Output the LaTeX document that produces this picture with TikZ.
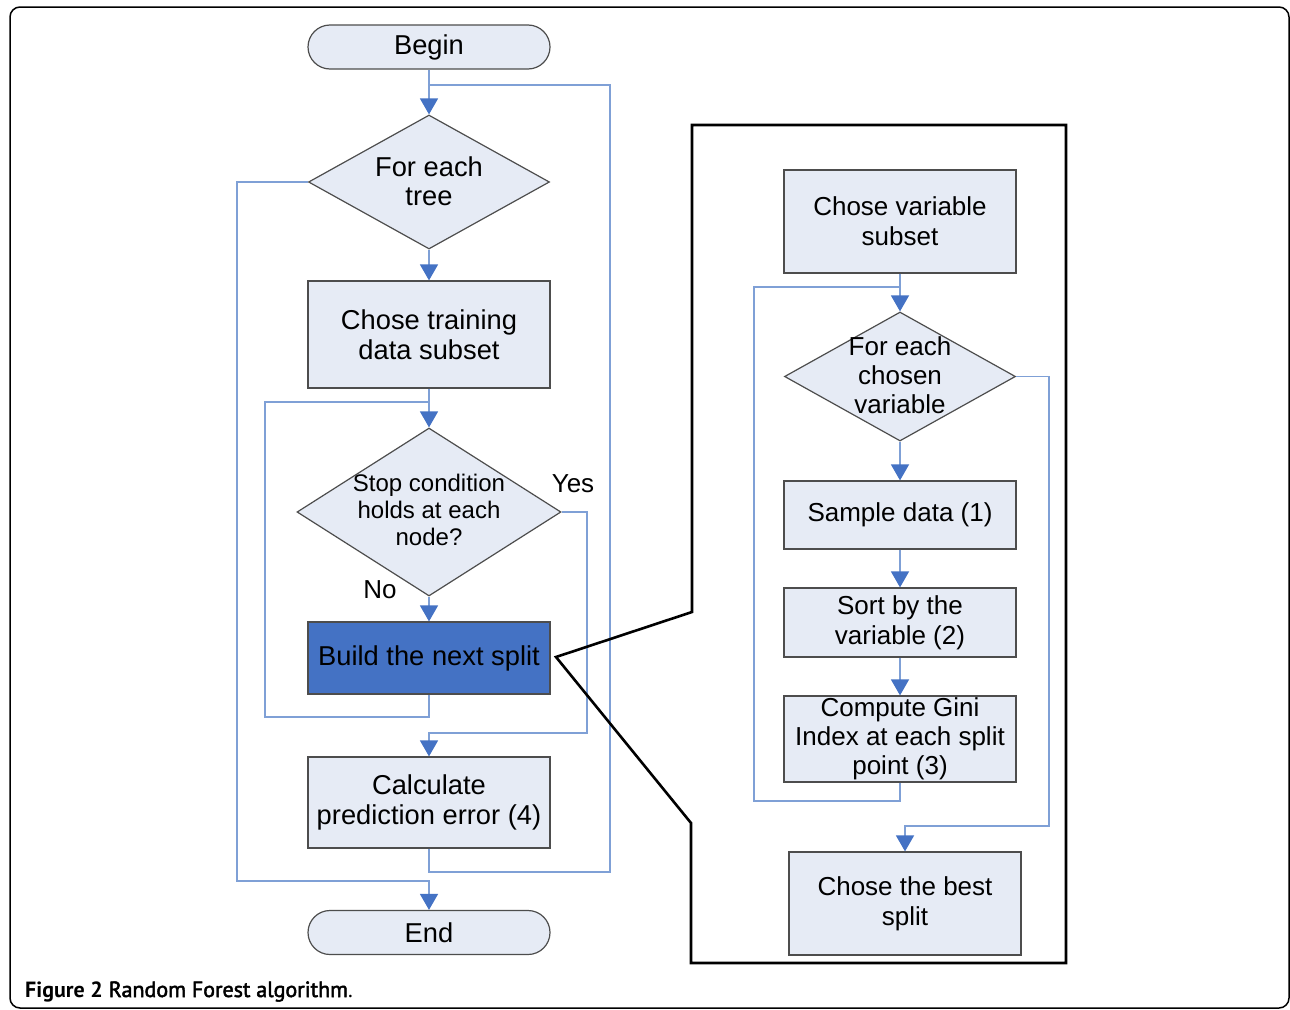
\documentclass[tikz,border=0pt]{standalone}
\usepackage{fontspec}
\setmainfont{Liberation Sans}
\newfontfamily\capfont{PT Sans}
\newfontfamily\capsemi[FakeBold=2.2]{PT Sans}
\usetikzlibrary{arrows.meta,shapes.geometric}
\definecolor{boxfill}{HTML}{E6EBF5}
\definecolor{boxdraw}{HTML}{4D4D4D}
\definecolor{linkblue}{HTML}{7FA0D6}
\definecolor{tipblue}{HTML}{4472C4}
\definecolor{splitblue}{HTML}{4472C4}
\begin{document}
\begin{tikzpicture}[x=1pt,y=-1pt,
  box/.style={draw=boxdraw,fill=boxfill,line width=1.2pt,minimum width=242pt,inner sep=0pt,align=center,font=\fontsize{27.3}{30.5}\selectfont},
  rbox/.style={box,minimum width=232pt,font=\fontsize{26}{30}\selectfont},
  term/.style={box,rounded corners=22pt,minimum height=44pt},
  dia/.style={diamond,draw=boxdraw,fill=boxfill,line width=1.2pt,inner sep=0pt},
  dtext/.style={align=center,inner sep=0pt,font=\fontsize{26}{29}\selectfont},
  lbl/.style={inner sep=0pt,font=\fontsize{26}{30}\selectfont},
  link/.style={draw=linkblue,line width=1.5pt},
  arr/.style={link,-{Triangle[width=18pt,length=16pt,color=tipblue]}},
  panel/.style={draw=black,line width=2.6pt,line join=miter}
]
\useasboundingbox (0,0) rectangle (1290,1009);
\fill[white] (0,0) rectangle (1290,1009);
\draw[line width=1.5pt,rounded corners=10pt] (10,7) rectangle (1289,1008);

% ---- left flow ----
\node[term] (begin) at (429,47) {Begin};
\node[dia,minimum width=241pt,minimum height=134pt] (tree) at (429,182) {};
\node[dtext,font=\fontsize{27.3}{29}\selectfont] (treetext) at (429,181) {For each\\tree};
\node[box,minimum height=107pt] (train) at (429,334.5) {Chose training\\data subset};
\node[dia,minimum width=264pt,minimum height=168pt] (stop) at (429,512) {};
\node[dtext,font=\fontsize{24}{27}\selectfont] (stoptext) at (429,510) {Stop condition\\holds at each\\node?};
\node[box,fill=splitblue,minimum height=72pt] (build) at (429,658) {Build the next split};
\node[box,minimum height=91pt] (calc) at (429,802.5) {Calculate\\prediction error (4)};
\node[term] (end) at (429,932.5) {End};
\node[lbl] (yes) at (573,484) {Yes};
\node[lbl] (no) at (380,590) {No};

\coordinate (m1) at (429,85);
\coordinate (r1) at (610,872);
\coordinate (r2) at (610,85);
\coordinate (l1) at (237,881);
\coordinate (l3a) at (265,717);
\coordinate (l3b) at (265,402);
\coordinate (m3) at (429,402);
\coordinate (y1) at (587,733);

\draw[link] (calc.south) |- (r1) -- (r2) -- (m1);
\draw[link] (build.south) |- (l3a) -- (l3b) -- (m3);
\draw[arr] (begin.south) -- (tree.north);
\draw[arr] (tree.south) -- (train.north);
\draw[arr] (train.south) -- (stop.north);
\draw[arr] (stop.south) -- (build.north);
\draw[arr] (stop.east) -| (y1) -| (calc.north);
\draw[arr] (tree.west) -| (l1) -| (end.north);

% ---- zoom panel ----
\coordinate (tip) at (556,657);
\draw[panel] (tip) -- (692,612) -- (692,125) -- (1066,125) -- (1066,963) -- (691,963) -- (691,823) -- cycle;

\node[rbox,minimum height=103pt] (vsub) at (900,221.5) {Chose variable\\subset};
\node[dia,minimum width=231pt,minimum height=129pt] (vdia) at (900,376.5) {};
\node[dtext] (vdiatext) at (900,375) {For each\\chosen\\variable};
\node[rbox,minimum height=68pt] (sample) at (900,515) {Sample data (1)};
\node[rbox,minimum height=69pt] (sort) at (900,622.5) {Sort by the\\variable (2)};
\node[rbox,minimum height=86pt,font=\fontsize{26}{29}\selectfont] (gini) at (900,739) {Compute Gini\\Index at each split\\point (3)};
\node[rbox,minimum height=103pt] (best) at (905,903.5) {Chose the best\\split};

\coordinate (r3a) at (754,801);
\coordinate (r3b) at (754,287);
\coordinate (m4) at (900,287);
\coordinate (r4) at (1049,826);

\draw[link] (gini.south) |- (r3a) -- (r3b) -- (m4);
\draw[arr] (vsub.south) -- (vdia.north);
\draw[arr] (vdia.south) -- (sample.north);
\draw[arr] (sample.south) -- (sort.north);
\draw[arr] (sort.south) -- (gini.north);
\draw[arr] (vdia.east) -| (r4) -| (best.north);

% ---- caption ----
\node[anchor=base west,inner sep=0pt,font=\capfont\fontsize{22}{26}\selectfont] (cap) at (25,997) {{\bfseries Figure 2} {\capsemi Random Forest algorithm}.};
\end{tikzpicture}
\end{document}
